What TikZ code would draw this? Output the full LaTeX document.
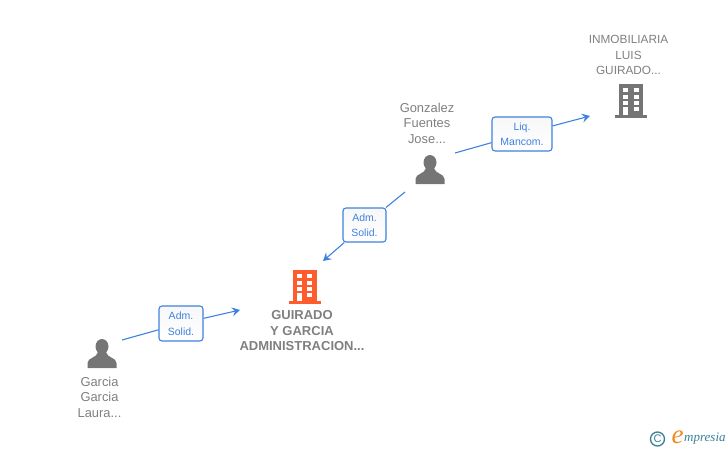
\documentclass[tikz,border=0pt]{standalone}
\usepackage{fontspec}
\setmainfont{Liberation Sans}
\newfontfamily\logofont{Liberation Serif}
\usetikzlibrary{positioning}
\usetikzlibrary{arrows.meta}
\definecolor{linkblue}{HTML}{3F81E0}
\definecolor{icongray}{HTML}{757575}
\definecolor{textgray}{HTML}{7F7F7F}
\definecolor{iconorange}{HTML}{FF5C2E}
\definecolor{logoteal}{HTML}{3A7F96}
\definecolor{logoorange}{HTML}{F08A1D}
\tikzset{
    link/.style = {draw=linkblue,line width=1.1pt},
    linkend/.style = {link,-{Stealth[length=8pt,width=9pt,inset=3pt]}},
    tagbox/.style = {rectangle,rounded corners=3pt,draw=linkblue,line width=1.1pt,top color=gray!6,bottom color=white,text=linkblue,font=\fontsize{10.5}{15.5}\selectfont,align=center,inner sep=0pt},
    caption/.style = {align=center,text=textgray,font=\fontsize{12.9}{15.5}\selectfont},
    captionb/.style = {align=center,text=textgray,font=\fontsize{13}{15.5}\selectfont\bfseries},
    iconspot/.style = {inner sep=0pt,minimum width=32pt,minimum height=36pt},
    person/.pic = {
        \fill[icongray] (0,-7.5) ellipse (6.5 and 7.5);
        \fill[icongray] (-14.5,14) -- (-14.5,9) .. controls (-14.5,3.5) and (-5,4) .. (-4,-2) -- (4,-2) .. controls (5,4) and (14.5,3.5) .. (14.5,9) -- (14.5,14) -- cycle;
    },
    building/.pic = {
        \fill[#1] (-16,14) rectangle (16,17);
        \fill[#1] (-12,-17) rectangle (12,15);
        \foreach \bx in {-8,2.5} {
            \foreach \by in {-13,-6.5,0,6} {
                \fill[white] (\bx,\by) rectangle ++(5,4);
            }
        }
        \fill[white] (-8,10) rectangle ++(5,4);
    },
}
\begin{document}
\begin{tikzpicture}[x=1pt,y=-1pt]
\useasboundingbox (0,0) rectangle (728,450);
%
\node[iconspot] at (304.5,287) (guirado) {};
\node[iconspot] at (631,101) (inmob) {};
\node[iconspot] at (430,170) (gonzalez) {};
\node[iconspot] at (102,354) (garcia) {};
\pic at (304.5,287) {building=iconorange};
\pic at (631,101) {building=icongray};
\pic at (430,170) {person};
\pic at (102,354) {person};
%
\node[captionb] at (302,331) (guiradotxt) {GUIRADO\\Y GARCIA\\ADMINISTRACION...};
\node[caption,font=\fontsize{11.8}{15.5}\selectfont] at (628.5,55) (inmobtxt) {INMOBILIARIA\\LUIS\\GUIRADO...};
\node[caption] at (427,123) (gonzaleztxt) {Gonzalez\\Fuentes\\Jose...};
\node[caption] at (99.5,397) (garciatxt) {Garcia\\Garcia\\Laura...};
%
\node[tagbox,minimum width=44pt,minimum height=35pt] at (181,323.5) (tagone) {Adm.\\Solid.};
\node[tagbox,minimum width=43pt,minimum height=34pt] at (364.5,225) (tagtwo) {Adm.\\Solid.};
\node[tagbox,minimum width=60pt,minimum height=34pt] at (522,134) (tagthree) {Liq.\\Mancom.};
%
\coordinate (startone) at (122,340);
\coordinate (endone) at (240,310);
\coordinate (starttwo) at (405,192);
\coordinate (endtwo) at (323,261);
\coordinate (startthree) at (455,153);
\coordinate (endthree) at (590,116);
%
\draw[link] (startone) -- (tagone);
\draw[linkend] (tagone) -- (endone);
\draw[link] (starttwo) -- (tagtwo);
\draw[linkend] (tagtwo) -- (endtwo);
\draw[link] (startthree) -- (tagthree);
\draw[linkend] (tagthree) -- (endthree);
%
\node[circle,draw=logoteal,line width=1.3pt,text=logoteal,inner sep=0pt,minimum size=14pt,font=\fontsize{11}{11}\selectfont] at (657.5,439) (copyr) {C};
\node[text=logoorange,font=\logofont\itshape\fontsize{27}{27}\selectfont,inner sep=0pt] at (677.5,437) (logoe) {e};
\node[text=logoteal,font=\logofont\itshape\fontsize{13}{13}\selectfont,inner sep=0pt,anchor=west] at (684,438.5) (logotxt) {mpresia};
\end{tikzpicture}
\end{document}
